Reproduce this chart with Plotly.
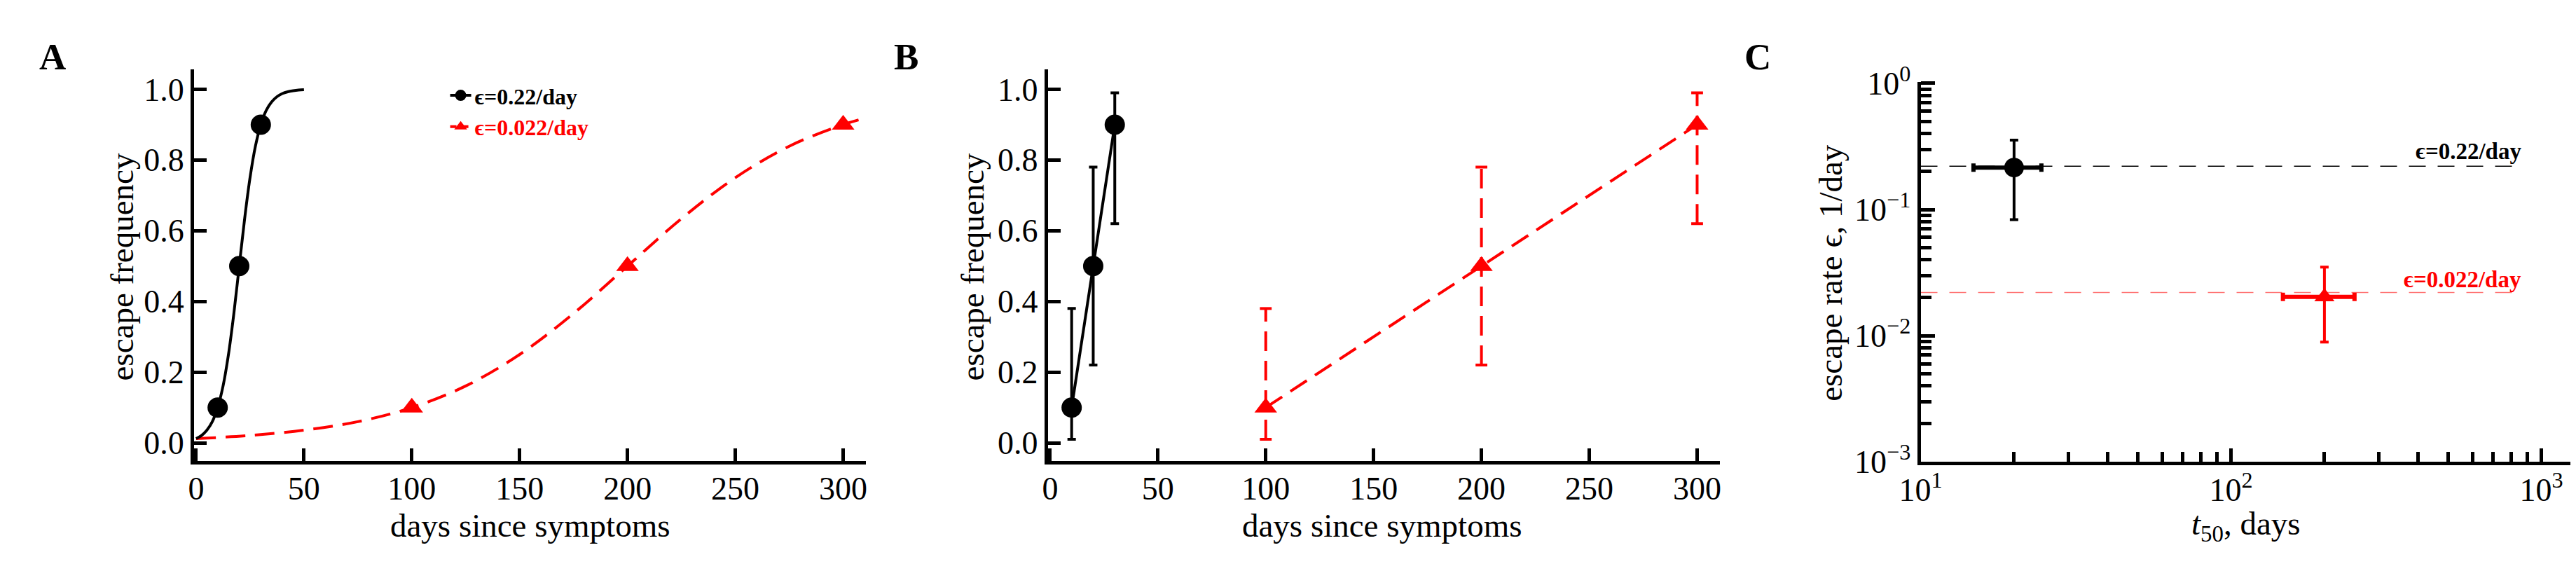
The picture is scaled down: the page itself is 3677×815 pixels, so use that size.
import math
import plotly.graph_objects as go

W, H = 3677, 815
FONT = "Liberation Serif"

# ---------------- data ----------------
# Panel A: fitted escape curves
fast_curve_days = [0, 2.5, 5, 7.5, 10, 12.5, 15, 17.5, 20, 22.5, 25, 27.5, 30,
                   32.5, 35, 37.5, 40, 42.5, 45, 47.5, 50]
fast_curve_freq = [0.012, 0.021, 0.036, 0.060, 0.100, 0.161, 0.250, 0.366, 0.500,
                   0.634, 0.750, 0.839, 0.900, 0.940, 0.964, 0.979, 0.988, 0.993,
                   0.996, 0.998, 0.999]
slow_curve_days = [0, 25, 50, 75, 100, 125, 150, 175, 200, 225, 250, 275, 300, 310]
slow_curve_freq = [0.012, 0.021, 0.036, 0.060, 0.100, 0.161, 0.250, 0.366, 0.500,
                   0.634, 0.750, 0.839, 0.900, 0.918]

# Sampled points (panels A and B)
fast_days = [10, 20, 30]
slow_days = [100, 200, 300]
point_freq = [0.10, 0.50, 0.90]
point_freq_lo = [0.01, 0.22, 0.62]
point_freq_hi = [0.38, 0.78, 0.99]

# Panel C: estimated escape rate vs t50
t50_days = [20, 200]
t50_lo = [14.8, 147]
t50_hi = [24.5, 250]
eps_est = [0.215, 0.0203]
eps_lo = [0.083, 0.0089]
eps_hi = [0.355, 0.035]
eps_true = [0.22, 0.022]
ref_line_days = [10, 870]
eps_labels = ["ϵ=0.22/day", "ϵ=0.022/day"]
eps_label_y = [0.29, 0.028]
eps_label_x = 870

freq_ticks = [0.0, 0.2, 0.4, 0.6, 0.8, 1.0]
day_ticks = [0, 50, 100, 150, 200, 250, 300]
t50_ticks = [10, 100, 1000]
t50_ticktext = ["10<sup>1</sup>", "10<sup>2</sup>", "10<sup>3</sup>"]
eps_ticks = [0.001, 0.01, 0.1, 1]
eps_ticktext = ["10<sup>\u22123</sup>", "10<sup>\u22122</sup>", "10<sup>\u22121</sup>", "10<sup>0</sup>"]

BLACK = "black"
RED = "#ff0000"
DASH = "28px,14px"

fig = go.Figure()

# ---------------- panel A ----------------
fig.add_trace(go.Scatter(x=slow_curve_days, y=slow_curve_freq, mode="lines",
                         line=dict(color=RED, width=4, dash=DASH, shape="spline"),
                         showlegend=False, xaxis="x", yaxis="y"))
fig.add_trace(go.Scatter(x=fast_curve_days, y=fast_curve_freq, mode="lines",
                         line=dict(color=BLACK, width=4, shape="spline"),
                         showlegend=False, xaxis="x", yaxis="y"))
fig.add_trace(go.Scatter(x=fast_days, y=point_freq, mode="markers",
                         marker=dict(symbol="circle", size=29, color=BLACK),
                         showlegend=False, xaxis="x", yaxis="y"))
fig.add_trace(go.Scatter(x=slow_days, y=point_freq, mode="markers",
                         marker=dict(symbol="triangle-up", size=28, color=RED),
                         showlegend=False, xaxis="x", yaxis="y"))
# legend entries
fig.add_trace(go.Scatter(x=[None], y=[None], mode="lines+markers",
                         line=dict(color=BLACK, width=4),
                         marker=dict(symbol="circle", size=16, color=BLACK),
                         name="<b>" + eps_labels[0] + "</b>", xaxis="x", yaxis="y"))
fig.add_trace(go.Scatter(x=[None], y=[None], mode="lines+markers",
                         line=dict(color=RED, width=4, dash="9px,8px"),
                         marker=dict(symbol="triangle-up", size=16, color=RED),
                         name='<b><span style="color:#ff0000">' + eps_labels[1] + "</span></b>",
                         xaxis="x", yaxis="y"))

# ---------------- panel B ----------------
err_plus = [h - v for h, v in zip(point_freq_hi, point_freq)]
err_minus = [v - l for v, l in zip(point_freq, point_freq_lo)]
fig.add_trace(go.Scatter(x=fast_days, y=point_freq, mode="lines+markers",
                         line=dict(color=BLACK, width=4),
                         marker=dict(symbol="circle", size=29, color=BLACK),
                         error_y=dict(type="data", array=err_plus, arrayminus=err_minus,
                                      color=BLACK, thickness=4, width=6),
                         showlegend=False, xaxis="x2", yaxis="y2"))
# dashed red error bars
ex, ey = [], []
for d, lo, hi in zip(slow_days, point_freq_lo, point_freq_hi):
    ex += [d, d, None]
    ey += [lo, hi, None]
fig.add_trace(go.Scatter(x=ex, y=ey, mode="lines",
                         line=dict(color=RED, width=4, dash=DASH),
                         showlegend=False, xaxis="x2", yaxis="y2"))
fig.add_trace(go.Scatter(x=slow_days + slow_days, y=point_freq_lo + point_freq_hi,
                         mode="markers",
                         marker=dict(symbol="line-ew", size=12,
                                     line=dict(color=RED, width=4)),
                         showlegend=False, xaxis="x2", yaxis="y2"))
fig.add_trace(go.Scatter(x=slow_days, y=point_freq, mode="lines+markers",
                         line=dict(color=RED, width=4, dash=DASH),
                         marker=dict(symbol="triangle-up", size=28, color=RED),
                         showlegend=False, xaxis="x2", yaxis="y2"))

# ---------------- panel C ----------------
ref_colors = ["black", "rgba(255,0,0,0.55)"]
for e, c in zip(eps_true, ref_colors):
    fig.add_trace(go.Scatter(x=ref_line_days, y=[e, e], mode="lines",
                             line=dict(color=c, width=1.5, dash="24px,17px"),
                             showlegend=False, xaxis="x3", yaxis="y3"))

pt_colors = [BLACK, RED]
pt_symbols = ["circle", "triangle-up"]
pt_sizes = [28, 25]
for i in range(2):
    fig.add_trace(go.Scatter(
        x=[t50_days[i]], y=[eps_est[i]], mode="markers",
        marker=dict(symbol=pt_symbols[i], size=pt_sizes[i], color=pt_colors[i]),
        error_x=dict(type="data", symmetric=False,
                     array=[t50_hi[i] - t50_days[i]], arrayminus=[t50_days[i] - t50_lo[i]],
                     color=pt_colors[i], thickness=6, width=6),
        error_y=dict(type="data", symmetric=False,
                     array=[eps_hi[i] - eps_est[i]], arrayminus=[eps_est[i] - eps_lo[i]],
                     color=pt_colors[i], thickness=4, width=6),
        showlegend=False, xaxis="x3", yaxis="y3"))

# ---------------- layout ----------------
def px_x(p):
    return p / W


def px_y(p):
    return 1 - p / H


tickfont = dict(family=FONT, size=46, color="black")
base = dict(showline=True, linecolor="black", linewidth=5, ticks="inside",
            tickcolor="black", tickwidth=5, showgrid=False, zeroline=False,
            tickfont=tickfont, mirror=False)

layout_axes = {}
for i, (x0, x1) in enumerate([(240, 1208), (1470, 2438)]):
    sfx = "" if i == 0 else "2"
    layout_axes["xaxis" + sfx] = dict(base, domain=[px_x(x0), px_x(x1)], range=[-1, 310.6],
                                      tickvals=day_ticks, ticklen=18, ticklabelstandoff=-5,
                                      anchor="y" + sfx)
    layout_axes["yaxis" + sfx] = dict(base, domain=[px_y(666), px_y(66)],
                                      range=[-0.0517, 1.0554], tickvals=freq_ticks,
                                      tickformat=".1f", ticklen=18, anchor="x" + sfx)

minor_x = [m * 10 ** k for k in (1, 2) for m in range(2, 10)]
minor_y = [m * 10.0 ** k for k in (-3, -2, -1) for m in range(2, 10)]
layout_axes["xaxis3"] = dict(base, domain=[px_x(2727), px_x(3668)], type="log",
                             range=[1, 3.105], tickvals=t50_ticks, ticktext=t50_ticktext,
                             ticklen=19, anchor="y3", ticklabelstandoff=-4,
                             minor=dict(tickvals=minor_x, ticks="inside", ticklen=14,
                                        tickwidth=5, tickcolor="black"))
layout_axes["yaxis3"] = dict(base, domain=[px_y(667), px_y(85)], type="log",
                             range=[-3, 0.01], tickvals=eps_ticks, ticktext=eps_ticktext,
                             ticklen=20, anchor="x3",
                             minor=dict(tickvals=minor_y, ticks="inside", ticklen=15,
                                        tickwidth=5, tickcolor="black"))

title_font = dict(family=FONT, size=47, color="black")
ann = []
for txt, cx in [("A", 36), ("B", 1266), ("C", 2492)]:
    ann.append(dict(text="<b>" + txt + "</b>", x=px_x(cx), y=px_y(46), xref="paper",
                    yref="paper", showarrow=False, xanchor="center", yanchor="middle",
                    font=dict(family=FONT, size=53, color="black")))
for cx in (136, 1361):
    ann.append(dict(text="escape frequency", x=px_x(cx), y=px_y(368), xref="paper",
                    yref="paper", showarrow=False, textangle=-90, xanchor="center",
                    yanchor="middle", font=title_font))
ann.append(dict(text="escape rate ϵ, 1/day", x=px_x(2597), y=px_y(377), xref="paper",
                yref="paper", showarrow=False, textangle=-90, xanchor="center",
                yanchor="middle", font=title_font))
for cx in (724, 1951):
    ann.append(dict(text="days since symptoms", x=px_x(cx), y=px_y(765), xref="paper",
                    yref="paper", showarrow=False, xanchor="center", yanchor="middle",
                    font=title_font))
ann.append(dict(text="<i>t</i><sub>50</sub>, days", x=px_x(3196), y=px_y(765), xref="paper",
                yref="paper", showarrow=False, xanchor="center", yanchor="middle",
                font=title_font))
for lbl, ly, c in zip(eps_labels, eps_label_y, pt_colors):
    ann.append(dict(text="<b>" + lbl + "</b>", x=math.log10(eps_label_x), y=math.log10(ly),
                    xref="x3", yref="y3", showarrow=False, xanchor="right",
                    yanchor="middle", font=dict(family=FONT, size=33, color=c)))

fig.update_layout(
    width=W, height=H,
    margin=dict(l=0, r=0, t=0, b=0),
    paper_bgcolor="white", plot_bgcolor="white",
    font=dict(family=FONT, color="black"),
    annotations=ann,
    legend=dict(x=px_x(604), y=px_y(76), xanchor="left", yanchor="top",
                font=dict(family=FONT, size=32, color="black"),
                bgcolor="rgba(0,0,0,0)", itemwidth=30, tracegroupgap=0),
    **layout_axes,
)

fig.write_html("out.html")
